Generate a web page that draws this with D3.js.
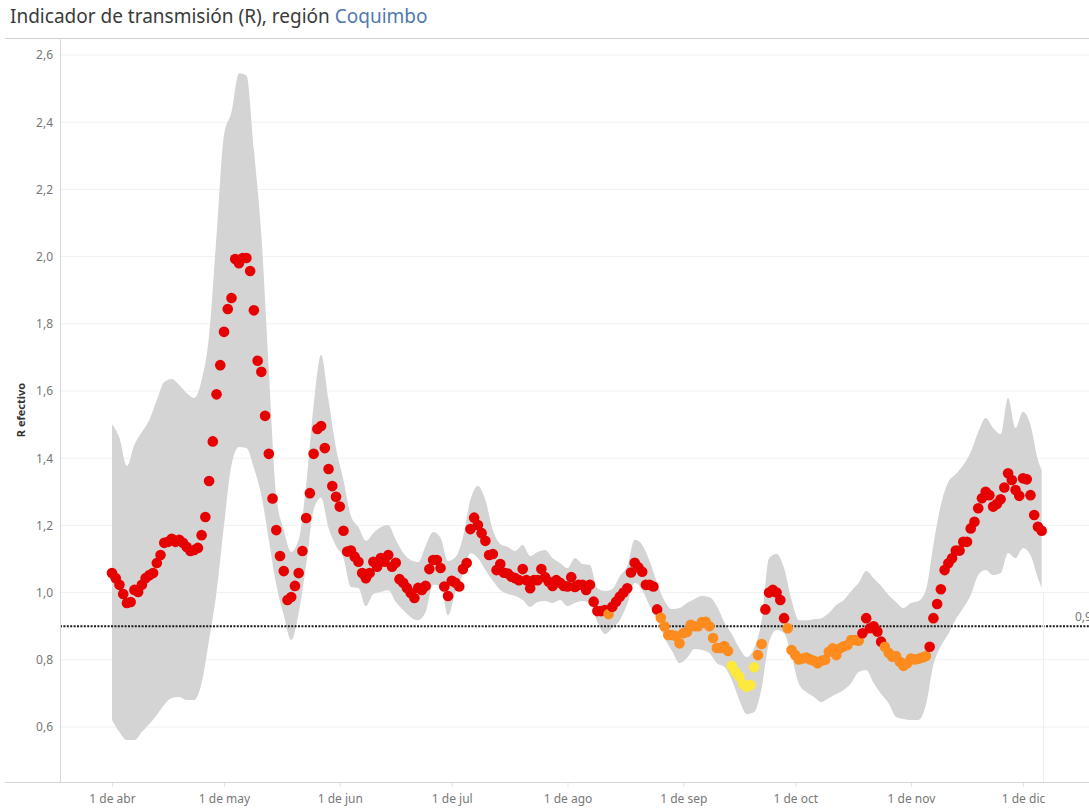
<!DOCTYPE html>
<html>
<head>
<meta charset="utf-8">
<script src="https://cdn.jsdelivr.net/npm/d3@7"></script>
<style>
body { margin: 0; background: #fff; }
text { font-family: "Noto Sans", sans-serif; }
</style>
</head>
<body>
<div id="chart"></div>
<script>
// R efectivo, region Coquimbo, 2020 - one estimate per day from 1 Apr
var firstDay = Date.UTC(2020, 3, 1);

var rValues = [
  1.058, 1.043, 1.023, 0.996, 0.969, 0.972, 1.008, 1.002, 1.023, 1.043,
  1.052, 1.058, 1.088, 1.112, 1.148, 1.151, 1.160, 1.151, 1.157, 1.148,
  1.136, 1.124, 1.127, 1.133, 1.171, 1.225, 1.332, 1.450, 1.590, 1.677,
  1.776, 1.844, 1.877, 1.993, 1.980, 1.996, 1.996, 1.957, 1.840, 1.690,
  1.657, 1.526, 1.413, 1.280, 1.186, 1.109, 1.064, 0.978, 0.987, 1.020,
  1.058, 1.124, 1.222, 1.296, 1.413, 1.487, 1.496, 1.430, 1.368, 1.317,
  1.285, 1.256, 1.184, 1.122, 1.125, 1.107, 1.092, 1.058, 1.043, 1.058,
  1.092, 1.077, 1.103, 1.092, 1.112, 1.077, 1.089, 1.040, 1.029, 1.014,
  0.999, 0.984, 1.014, 1.008, 1.020, 1.070, 1.097, 1.097, 1.073, 1.018,
  0.990, 1.035, 1.029, 1.018, 1.070, 1.088, 1.189, 1.223, 1.201, 1.177,
  1.154, 1.112, 1.115, 1.067, 1.085, 1.059, 1.057, 1.047, 1.043, 1.037,
  1.070, 1.037, 1.013, 1.037, 1.037, 1.070, 1.046, 1.032, 1.020, 1.037,
  1.029, 1.020, 1.018, 1.046, 1.017, 1.023, 1.023, 1.008, 1.023, 0.973,
  0.945, 0.945, 0.948, 0.936, 0.958, 0.973, 0.988, 1.000, 1.013, 1.060,
  1.089, 1.075, 1.062, 1.023, 1.023, 1.018, 0.950, 0.925, 0.899, 0.874,
  0.874, 0.871, 0.849, 0.879, 0.883, 0.904, 0.900, 0.900, 0.912, 0.913,
  0.900, 0.865, 0.835, 0.835, 0.841, 0.826, 0.782, 0.764, 0.750, 0.728,
  0.720, 0.725, 0.778, 0.814, 0.847, 0.950, 1.000, 1.008, 1.000, 0.978,
  0.924, 0.894, 0.829, 0.814, 0.801, 0.804, 0.807, 0.801, 0.797, 0.790,
  0.797, 0.800, 0.824, 0.834, 0.814, 0.834, 0.840, 0.844, 0.859, 0.859,
  0.857, 0.879, 0.924, 0.894, 0.900, 0.884, 0.854, 0.839, 0.821, 0.809,
  0.811, 0.794, 0.782, 0.790, 0.804, 0.801, 0.803, 0.807, 0.811, 0.839,
  0.924, 0.966, 1.010, 1.067, 1.087, 1.102, 1.125, 1.125, 1.151, 1.151,
  1.191, 1.211, 1.251, 1.281, 1.300, 1.290, 1.256, 1.264, 1.278, 1.313,
  1.355, 1.335, 1.305, 1.288, 1.340, 1.337, 1.290, 1.231, 1.196, 1.184
];

// colour level of each day, as runs of [level, number of days]
var levelRuns = [
  ["rojo", 133], ["naranja", 1], ["rojo", 13], ["naranja", 19], ["amarillo", 7],
  ["naranja", 2], ["rojo", 6], ["naranja", 20], ["rojo", 6], ["naranja", 12], ["rojo", 31]
];

// confidence band, read every second day (plus the last day)
var bandDays = d3.range(0, 250, 2).concat([249]);
var bandHi = [
  1.501, 1.460, 1.377, 1.440, 1.478, 1.514, 1.573, 1.627, 1.636, 1.618,
  1.594, 1.579, 1.632, 1.766, 2.064, 2.362, 2.430, 2.546, 2.540, 2.317,
  2.064, 1.662, 1.290, 1.186, 1.121, 1.157, 1.320, 1.558, 1.707, 1.573,
  1.430, 1.335, 1.228, 1.195, 1.154, 1.177, 1.195, 1.201, 1.157, 1.118,
  1.097, 1.091, 1.139, 1.180, 1.163, 1.094, 1.106, 1.165, 1.276, 1.317,
  1.276, 1.186, 1.145, 1.136, 1.124, 1.142, 1.109, 1.121, 1.127, 1.103,
  1.088, 1.073, 1.103, 1.085, 1.082, 1.014, 1.005, 1.011, 1.049, 1.079,
  1.157, 1.142, 1.094, 1.029, 0.975, 0.951, 0.954, 0.969, 0.981, 0.990,
  0.987, 0.960, 0.912, 0.877, 0.835, 0.808, 0.835, 0.918, 1.103, 1.115,
  1.073, 0.978, 0.918, 0.918, 0.921, 0.924, 0.939, 0.963, 0.978, 1.005,
  1.029, 1.064, 1.043, 1.020, 0.993, 0.972, 0.954, 0.969, 0.975, 1.008,
  1.142, 1.261, 1.329, 1.353, 1.380, 1.418, 1.478, 1.520, 1.490, 1.472,
  1.579, 1.490, 1.538, 1.499, 1.395, 1.365
];
var bandLo = [
  0.621, 0.585, 0.561, 0.561, 0.585, 0.609, 0.636, 0.666, 0.686, 0.689,
  0.680, 0.680, 0.731, 0.859, 1.002, 1.201, 1.380, 1.433, 1.430, 1.371,
  1.290, 1.157, 1.023, 0.933, 0.859, 0.939, 1.082, 1.246, 1.282, 1.192,
  1.139, 1.103, 1.017, 1.014, 0.960, 0.996, 1.002, 1.008, 0.972, 0.948,
  0.927, 0.918, 0.942, 1.023, 1.020, 0.933, 1.002, 1.055, 1.118, 1.103,
  1.067, 1.035, 1.008, 0.996, 0.990, 0.978, 0.957, 0.972, 0.975, 0.969,
  0.978, 0.960, 0.969, 0.975, 0.969, 0.913, 0.877, 0.895, 0.918, 0.966,
  1.029, 1.008, 0.960, 0.918, 0.865, 0.826, 0.790, 0.805, 0.832, 0.829,
  0.820, 0.790, 0.779, 0.740, 0.681, 0.639, 0.645, 0.716, 0.853, 0.889,
  0.880, 0.811, 0.728, 0.704, 0.689, 0.674, 0.686, 0.698, 0.710, 0.731,
  0.764, 0.770, 0.731, 0.698, 0.671, 0.630, 0.624, 0.621, 0.621, 0.666,
  0.785, 0.841, 0.877, 0.921, 0.954, 0.993, 1.052, 1.067, 1.052, 1.058,
  1.118, 1.103, 1.133, 1.112, 1.043, 1.014
];

var yTicks = [0.6, 0.8, 1.0, 1.2, 1.4, 1.6, 1.8, 2.0, 2.2, 2.4, 2.6];
var monthTicks = [3, 4, 5, 6, 7, 8, 9, 10, 11].map(function(m){return new Date(Date.UTC(2020, m, 1));});
var monthLabels = ["1 de abr", "1 de may", "1 de jun", "1 de jul", "1 de ago", "1 de sep", "1 de oct", "1 de nov", "1 de dic"];
var refValue = 0.9;
var refLabel = "0,9";

var levelColor = {rojo: "#e60000", naranja: "#fd8b1e", amarillo: "#fde93b"};

function drawChart() {
    var width = 1089, height = 809;
    var pLeft = 60, pTop = 38, pBottom = 782, pRight = width;
    var DAY = 86400000;

    function dayDate(d) {return new Date(firstDay + d*DAY);}

    var x = d3.scaleUtc()
	.domain([new Date(Date.UTC(2020, 3, 1)), new Date(Date.UTC(2020, 11, 1))])
	.range([112, 1023]);
    var y = d3.scaleLinear().domain([0.6, 2.6]).range([727, 55]);

    var levels = [];
    levelRuns.forEach(function(r){ for (var i = 0; i < r[1]; i++) levels.push(r[0]); });

    var points = rValues.map(function(v, i){ return {date: dayDate(i), r: v, level: levels[i]}; });
    var band = bandDays.map(function(d, i){ return {date: dayDate(d), hi: bandHi[i], lo: bandLo[i]}; });

    var svg = d3.select("#chart").append("svg")
	.attr("width", width)
	.attr("height", height);

    // title
    var title = svg.append("text")
	.attr("x", 10)
	.attr("y", 23)
	.style("font-size", "19px")
	.style("fill", "#3a3a3a");
    title.append("tspan").text("Indicador de transmisión (R), región ");
    title.append("tspan").style("fill", "#4e7aae").text("Coquimbo");

    svg.append("defs").append("clipPath")
	.attr("id", "plot")
	.append("rect")
	.attr("x", pLeft).attr("y", pTop)
	.attr("width", pRight - pLeft).attr("height", pBottom - pTop);

    // gridlines
    svg.append("g")
	.selectAll("line")
	.data(yTicks)
	.enter().append("line")
	.attr("x1", pLeft).attr("x2", pRight)
	.attr("y1", function(d){return y(d)}).attr("y2", function(d){return y(d)})
	.style("stroke", "#f0f0f0")
	.style("stroke-width", 1);

    var plot = svg.append("g").attr("clip-path", "url(#plot)");

    var area = d3.area()
	.x(function(d){return x(d.date)})
	.y0(function(d){return y(d.lo)})
	.y1(function(d){return y(d.hi)})
	.curve(d3.curveMonotoneX);

    plot.append("path")
	.datum(band)
	.attr("d", area)
	.style("fill", "#d4d4d4");

    // faint panel edge of the reference label
    svg.append("line")
	.attr("x1", 1043.5).attr("x2", 1043.5)
	.attr("y1", y(1.0)).attr("y2", pBottom)
	.style("stroke", "#eeeeee");

    plot.append("line")
	.attr("x1", pLeft).attr("x2", pRight)
	.attr("y1", y(refValue)).attr("y2", y(refValue))
	.style("stroke", "#1a1a1a")
	.style("stroke-width", 2)
	.style("stroke-dasharray", "2,1.4");

    svg.append("text")
	.attr("x", 1075)
	.attr("y", y(refValue) - 5)
	.style("font-size", "12px")
	.style("fill", "#777")
	.text(refLabel);

    plot.selectAll("circle")
	.data(points)
	.enter().append("circle")
	.attr("cx", function(d){return x(d.date)})
	.attr("cy", function(d){return y(d.r)})
	.attr("r", 5.3)
	.style("fill", function(d){return levelColor[d.level]});

    // frame lines
    svg.append("line")
	.attr("x1", 5).attr("x2", pRight).attr("y1", pTop + 0.5).attr("y2", pTop + 0.5)
	.style("stroke", "#d0d0d0");
    svg.append("line")
	.attr("x1", pLeft + 0.5).attr("x2", pLeft + 0.5).attr("y1", pTop).attr("y2", pBottom)
	.style("stroke", "#d6d6d6");

    // y axis
    var yAxis = svg.append("g")
	.attr("transform", "translate(" + pLeft + ",0)")
	.call(d3.axisLeft(y).tickValues(yTicks).tickSize(0).tickPadding(7)
	      .tickFormat(function(d){return d.toFixed(1).replace(".", ",")}));
    yAxis.select(".domain").remove();
    yAxis.selectAll("text")
	.style("font-size", "12px")
	.style("fill", "#777");

    svg.append("text")
	.attr("transform", "translate(25,410) rotate(-90)")
	.attr("text-anchor", "middle")
	.style("font-size", "11px")
	.style("font-weight", "bold")
	.style("fill", "#333")
	.text("R efectivo");

    // x axis
    var xAxis = svg.append("g")
	.attr("transform", "translate(0," + pBottom + ")")
	.call(d3.axisBottom(x).tickValues(monthTicks).tickSize(5).tickPadding(7)
	      .tickFormat(function(d, i){return monthLabels[i]}));
    xAxis.select(".domain").remove();
    xAxis.selectAll("line").style("stroke", "#e4e4e4");
    xAxis.selectAll("text")
	.style("font-size", "12px")
	.style("fill", "#777");

    svg.append("line")
	.attr("x1", 5).attr("x2", pRight).attr("y1", pBottom + 0.5).attr("y2", pBottom + 0.5)
	.style("stroke", "#d6d6d6");
}

drawChart();
</script>
</body>
</html>
